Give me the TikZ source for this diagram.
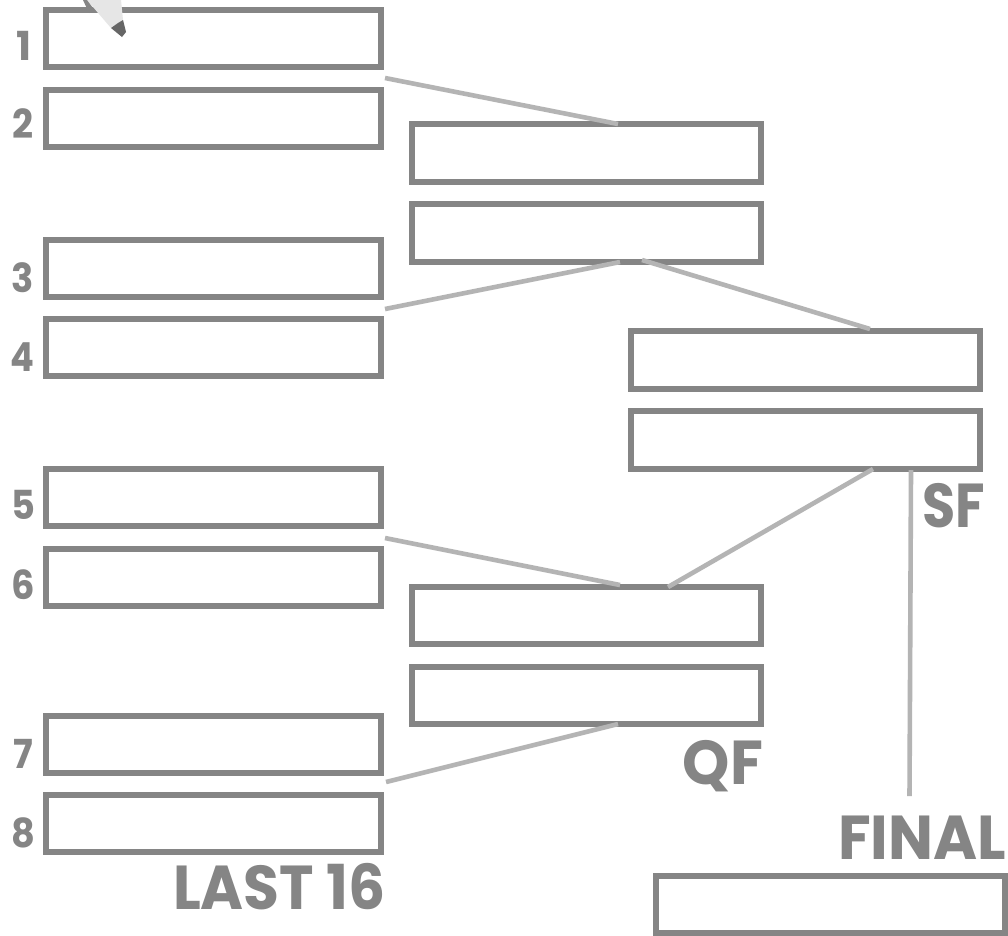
\documentclass[tikz,border=0pt]{standalone}
\usepackage{fontspec}
\setmainfont{Poppins}[BoldFont=Poppins Bold]
\definecolor{boxgray}{HTML}{858585}
\definecolor{linegray}{HTML}{B4B4B4}
\definecolor{pencilbody}{HTML}{E6E6E6}
\definecolor{penciltip}{HTML}{666666}
\newcommand{\narrow}[2]{\scalebox{#1}[1]{#2}}
\tikzset{
  slot/.style={draw=boxgray,line width=5.7pt,fill=white,inner sep=0pt,outer sep=0pt,minimum height=57.5pt},
  lslot/.style={slot,minimum width=335.5pt},
  rslot/.style={slot,minimum width=349.5pt},
  link/.style={draw=linegray,line width=4.6pt},
  lab/.style={text=boxgray,font=\bfseries\fontsize{#1}{#1}\selectfont,inner sep=0pt,outer sep=0pt},
  lab/.default=40pt
}
\begin{document}
\begin{tikzpicture}[x=1pt,y=-1pt]
\useasboundingbox (0,0) rectangle (1008,935);
\fill[white] (0,0) rectangle (1008,935);
% last 16
\node[lslot] (a1) at (213.5,38.5) {};
\node[lslot] (a2) at (213.5,118.5) {};
\node[lslot] (a3) at (213.5,268.5) {};
\node[lslot] (a4) at (213.5,347.5) {};
\node[lslot] (a5) at (213.5,497.5) {};
\node[lslot] (a6) at (213.5,577.5) {};
\node[lslot] (a7) at (213.5,744.5) {};
\node[lslot] (a8) at (213.5,823.5) {};
% QF
\node[rslot] (q1) at (586.5,153) {};
\node[rslot] (q2) at (586.5,233) {};
\node[rslot] (q3) at (586.5,615.5) {};
\node[rslot] (q4) at (586.5,695.5) {};
% SF
\node[rslot] (s1) at (805.5,360) {};
\node[rslot] (s2) at (805.5,440) {};
% final
\node[rslot] (f) at (830.5,904.5) {};
% free ends
\coordinate (l1a) at (385,78); \coordinate (l1b) at (618,124);
\coordinate (l2a) at (385,309); \coordinate (l2b) at (620,262);
\coordinate (l3a) at (642,260); \coordinate (l3b) at (870,329);
\coordinate (l4a) at (385,538); \coordinate (l4b) at (620,585);
\coordinate (l5a) at (668,587); \coordinate (l5b) at (873,469);
\coordinate (l6a) at (386,782); \coordinate (l6b) at (618,724);
\coordinate (l7a) at (911,470); \coordinate (l7b) at (909.5,796);
\draw[link] (l1a) -- (l1b);
\draw[link] (l2a) -- (l2b);
\draw[link] (l3a) -- (l3b);
\draw[link] (l4a) -- (l4b);
\draw[link] (l5a) -- (l5b);
\draw[link] (l6a) -- (l6b);
\draw[link] (l7a) -- (l7b);
% numbers
\node[lab=40pt] (n1) at (24,46) {1};
\node[lab=40pt] (n2) at (23,124) {\narrow{.92}{2}};
\node[lab=40pt] (n3) at (23,278) {\narrow{.92}{3}};
\node[lab=40pt] (n4) at (22.5,357) {\narrow{.88}{4}};
\node[lab=40pt] (n5) at (23,505) {\narrow{.92}{5}};
\node[lab=40pt] (n6) at (23,585) {\narrow{.92}{6}};
\node[lab=40pt] (n7) at (23,754) {\narrow{.92}{7}};
\node[lab=40pt] (n8) at (23,833) {\narrow{.92}{8}};
% round labels
\node[lab=62pt,anchor=east] (t16) at (385.5,887) {\narrow{.94}{LAST 16}};
\node[lab=62pt,anchor=east] (tq) at (763,766) {\narrow{.97}{QF}};
\node[lab=62pt,anchor=east] (ts) at (985,506) {\narrow{.87}{SF}};
\node[lab=62pt,anchor=east] (tf) at (1006,838) {\narrow{.965}{FINAL}};
% pencil
\fill[pencilbody] (87,0) -- (111,28) -- (123,20) -- (121,0) -- cycle;
\fill[penciltip] (111,28) -- (118,23) -- (123,20) -- (126,32) -- (122,37) -- cycle;
\fill[boxgray] (83,0) -- (87,0) -- (93,8) -- (89,13) -- cycle;
\end{tikzpicture}
\end{document}
